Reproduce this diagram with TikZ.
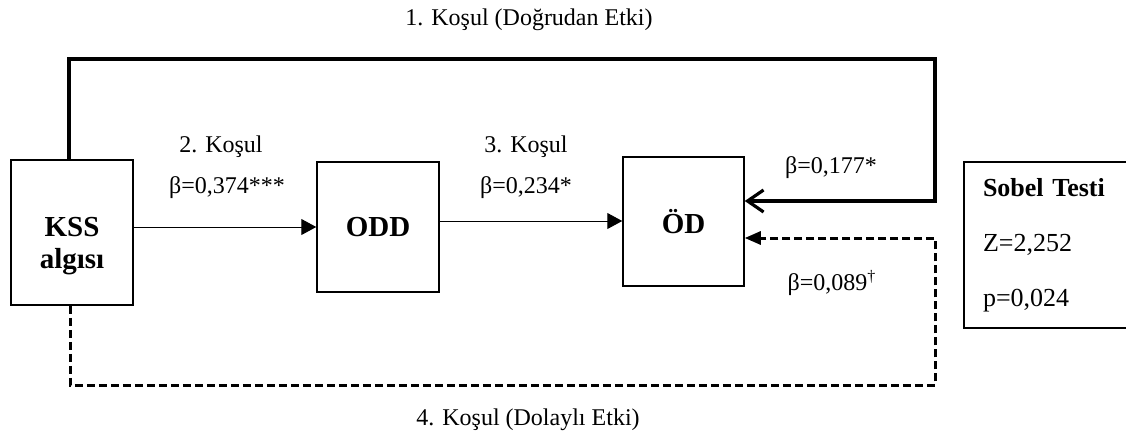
\documentclass[tikz,border=0pt]{standalone}
\usepackage{fontspec}
\setmainfont{Liberation Serif}
\usetikzlibrary{arrows.meta,calc}

\tikzset{
  varbox/.style 2 args={draw, line width=0.75pt, minimum width=#1, minimum height=#2, inner sep=0pt,
    font=\fontsize{14.5}{16}\selectfont\bfseries, align=center},
  lbl/.style={font=\fontsize{12}{14}\selectfont, inner sep=0pt},
  effect/.style={line width=0.5pt, -{Triangle[length=7.5pt,width=8pt]}},
  direct/.style={line width=1.6pt, -{Straight Barb[length=8pt,width=11pt]}},
  indirect/.style={line width=1.5pt, dash pattern=on 4pt off 2pt, -{Triangle[length=8pt,width=6.5pt]}},
}

\begin{document}
\begin{tikzpicture}[x=0.5pt, y=-0.5pt]
			\useasboundingbox (0,0) rectangle (1126,434);
			%%%%% boxes %%%%%
			\node[varbox={61pt}{72.5pt}] (kss) at (72,232.5) {};
			\node[varbox={61pt}{0pt}, draw=none] (ksslbl) at (72,246) {KSS\\alg\i s\i};
			\node[varbox={61pt}{65pt}] (odd) at (378,227) {ODD};
			\node[varbox={60.5pt}{64.5pt}] (od) at (683.5,221.5) {ÖD};
			\node[draw, line width=0.75pt, minimum width=88pt, minimum height=83pt, text width=69pt,
			  inner xsep=9.5pt, align=left, font=\fontsize{13}{27.5}\selectfont] (sobel) at (1052,245)
			  {\textbf{Sobel Testi}\\Z=2,252\\p=0,024};
			
			%%%%% labels %%%%%
			\node[lbl] (k1) at (529,20) {1. Koşul (Doğrudan Etki)};
			\node[lbl] (k2) at (221,147) {2. Koşul};
			\node[lbl] (b2) at (227,188) {β=0,374***};
			\node[lbl] (k3) at (526,147) {3. Koşul};
			\node[lbl] (b3) at (526,188) {β=0,234*};
			\node[lbl] (b1) at (831,168) {β=0,177*};
			\node[lbl] (b4) at (832,283) {β=0,089\textsuperscript{†}};
			\node[lbl] (k4) at (528,420) {4. Koşul (Dolaylı Etki)};
			
			%%%%% paths %%%%%
			\coordinate (topR) at (935,59);
			\coordinate (botR) at (935,385);
			\draw[effect] (kss.east |- odd.west) -- (odd.west);
			\draw[effect] (odd.east |- 0,221) -- (od.west |- 0,221);
			\draw[direct] ([xshift=-1.5pt]kss.north) |- (topR) |- (od.east |- 0,201);
			\draw[indirect] ([xshift=-1pt]kss.south) |- (botR) |- (od.east |- 0,238);
		\end{tikzpicture}
\end{document}
